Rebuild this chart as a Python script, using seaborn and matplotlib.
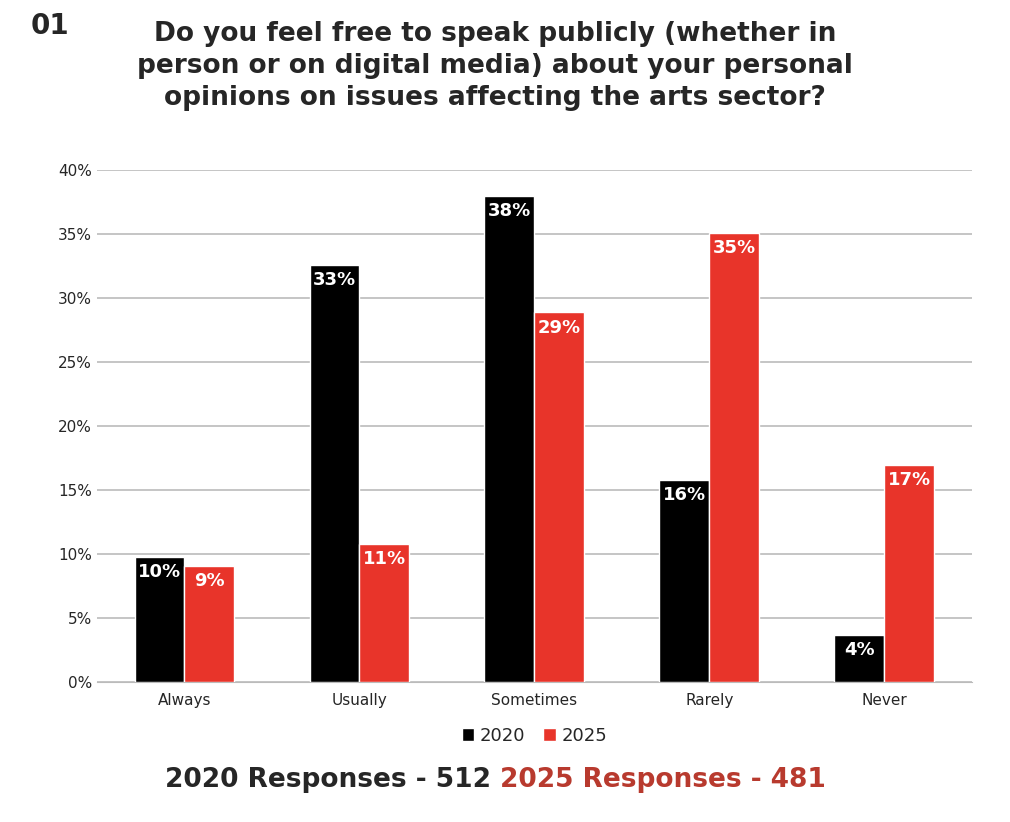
import pandas as pd
import matplotlib
matplotlib.use("Agg")
import matplotlib.pyplot as plt
import seaborn as sns
from matplotlib.ticker import FuncFormatter

categories = ["Always", "Usually", "Sometimes", "Rarely", "Never"]
values_2020 = [9.8, 32.6, 38.0, 15.8, 3.7]
values_2025 = [9.1, 10.8, 28.9, 35.1, 17.0]
labels_2020 = ["10%", "33%", "38%", "16%", "4%"]
labels_2025 = ["9%", "11%", "29%", "35%", "17%"]

df = pd.DataFrame({
    "cat": categories * 2,
    "val": values_2020 + values_2025,
    "year": ["2020"] * 5 + ["2025"] * 5,
    "lab": labels_2020 + labels_2025,
})

sns.set_style("white")
plt.rcParams['font.family'] = ['DejaVu Sans']
fig = plt.figure(figsize=(10.1, 8.22), dpi=100)
ax = fig.add_axes([0.096, 0.170, 0.866, 0.623])
red = "#E8342A"
sns.barplot(data=df, x="cat", y="val", hue="year", palette={"2020": "black", "2025": red},
            width=0.57, gap=0, ax=ax, saturation=1, zorder=3)
ax.set_ylim(0, 40)
ax.set_yticks(range(0, 41, 5))
ax.yaxis.set_major_formatter(FuncFormatter(lambda v, p: f"{v:.0f}%"))
ax.grid(axis="y", color="#bbbbbb", linewidth=1.2, zorder=0)
ax.set_axisbelow(True)
for s in ["top", "right", "left"]:
    ax.spines[s].set_visible(False)
ax.spines["bottom"].set_color("#bbbbbb")
ax.set_xlabel("")
ax.set_ylabel("")
ax.tick_params(axis="both", length=0, labelsize=11)
ax.tick_params(axis="x", pad=8)

for cont, labs in zip(ax.containers, [labels_2020, labels_2025]):
    for bar, lab in zip(cont, labs):
        ax.text(bar.get_x() + bar.get_width() / 2, bar.get_height() - 0.5, lab,
                ha="center", va="top", color="white", fontsize=13, fontweight="bold")

ax.legend(loc="upper center", bbox_to_anchor=(0.5, -0.055), ncol=2, frameon=False,
          fontsize=13, handlelength=0.7, handleheight=0.7, columnspacing=1.0, handletextpad=0.3)

fig.text(0.03, 0.985, "01", fontsize=20, fontweight="bold", va="top")
fig.text(0.49, 0.975, "Do you feel free to speak publicly (whether in\nperson or on digital media) about your personal\nopinions on issues affecting the arts sector?",
         ha="center", va="top", fontsize=19, fontweight="bold", linespacing=1.3)
t1 = fig.text(0.495, 0.035, "2020 Responses - 512 ", ha="right", va="bottom", fontsize=19, fontweight="bold")
fig.text(0.495, 0.035, "2025 Responses - 481", ha="left", va="bottom", fontsize=19, fontweight="bold", color="#B83A2E")

fig.savefig("out.png", dpi=100)
